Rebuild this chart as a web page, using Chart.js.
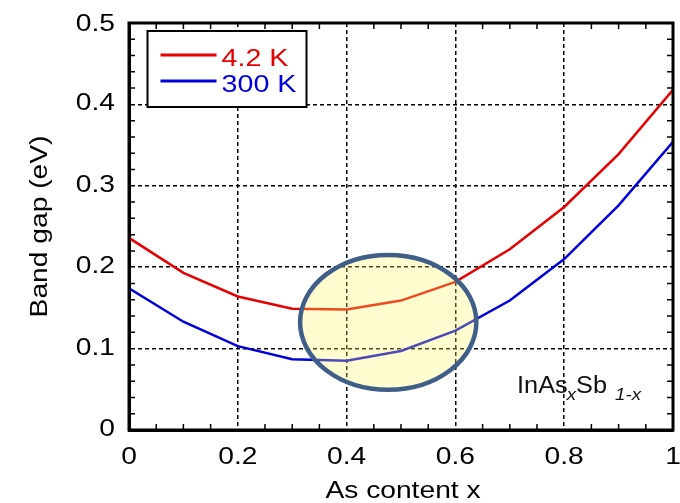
<!DOCTYPE html>
<html>
<head>
<meta charset="utf-8">
<script src="https://cdn.jsdelivr.net/npm/chart.js@4/dist/chart.umd.min.js"></script>
<style>
  html, body { margin: 0; padding: 0; background: #fff; }
  #wrap { width: 680px; height: 503px; }
</style>
</head>
<body>
<div id="wrap"><canvas id="c" width="680" height="503"></canvas></div>
<script>
var asContent = [0, 0.1, 0.2, 0.3, 0.4, 0.5, 0.6, 0.7, 0.8, 0.9, 1]
  , gap4K     = [0.236, 0.193, 0.164, 0.149, 0.148, 0.159, 0.182, 0.222, 0.274, 0.339, 0.418]
  , gap300K   = [0.174, 0.133, 0.103, 0.087, 0.085, 0.097, 0.122, 0.159, 0.210, 0.276, 0.354]
  , labels    = ["4.2 K", "300 K"]
  , colors    = ["#e60000", "#0000dc"]
  , xTicks    = [0, 0.2, 0.4, 0.6, 0.8, 1]
  , yTicks    = [0, 0.1, 0.2, 0.3, 0.4, 0.5]
  , xTitle    = "As content x"
  , yTitle    = "Band gap (eV)"
  // highlighted region, in data units
  , spot      = {x: 0.4765, y: 0.1323, rx: 0.162, ry: 0.0828}
  // where the compound name starts, in data units
  , nameAt    = {x: 0.7134, y: 0.0458}
  , FONT      = "'Liberation Sans', Arial, sans-serif"
  , STRETCH   = 1.2   // the original lettering is wider than Arial

function toPoints(ys) {
  return ys.map(function(y, i) { return {x: asContent[i], y: y} })
}

function edgeColor(ctx, max) {
  var v = ctx.tick && ctx.tick.value
  return (v === 0 || Math.abs(v - max) < 1e-9) ? "rgba(0,0,0,0)" : "#000"
}

function fmt(v) { return String(+v.toFixed(2)) }

// draws text stretched along its own direction, returns advance
function wideText(c, text, x, y, opts) {
  c.save()
  c.translate(x, y)
  if (opts.rotate) c.rotate(opts.rotate)
  c.scale(opts.sx || STRETCH, 1)
  c.font = opts.font
  c.fillStyle = opts.color || "#000"
  c.textAlign = opts.align || "left"
  c.textBaseline = "alphabetic"
  c.fillText(text, 0, 0)
  var w = c.measureText(text).width * (opts.sx || STRETCH)
  c.restore()
  return w
}

var extras = {
  id: "extras",
  afterDatasetsDraw: function(chart) {
    var c = chart.ctx, xs = chart.scales.x, ys = chart.scales.y
      , cx = xs.getPixelForValue(spot.x), cy = ys.getPixelForValue(spot.y)
      , rx = xs.getPixelForValue(spot.x + spot.rx) - cx
      , ry = cy - ys.getPixelForValue(spot.y + spot.ry)
    c.save()
    c.beginPath()
    c.ellipse(cx, cy, rx, ry, 0, 0, Math.PI * 2)
    c.fillStyle = "rgba(255,246,95,0.3)"
    c.fill()
    c.lineWidth = 4.5
    c.strokeStyle = "#3f5e88"
    c.stroke()
    c.restore()
  },
  afterDraw: function(chart) {
    var c = chart.ctx, a = chart.chartArea, xs = chart.scales.x, ys = chart.scales.y
      , i, p
      , tickFont = "23.5px " + FONT
    c.save()
    // minor ticks on all four sides
    c.strokeStyle = "#000"
    c.lineWidth = 1.5
    c.beginPath()
    for (i = 1; i < 20; i++) {
      if (i % 4 === 0) continue
      p = xs.getPixelForValue(i * 0.05)
      c.moveTo(p, a.bottom); c.lineTo(p, a.bottom - 6)
      c.moveTo(p, a.top);    c.lineTo(p, a.top + 6)
    }
    for (i = 1; i < 25; i++) {
      if (i % 5 === 0) continue
      p = ys.getPixelForValue(i * 0.02)
      c.moveTo(a.left, p);  c.lineTo(a.left + 6, p)
      c.moveTo(a.right, p); c.lineTo(a.right - 6, p)
    }
    c.stroke()
    // frame
    c.lineWidth = 3
    c.strokeRect(a.left, a.top, a.right - a.left, a.bottom - a.top)
    c.restore()

    // tick labels and axis titles
    xTicks.forEach(function(v) {
      wideText(c, fmt(v), xs.getPixelForValue(v), a.bottom + 34, {font: tickFont, align: "center"})
    })
    yTicks.forEach(function(v) {
      var y = Math.max(ys.getPixelForValue(v) + 6, 31)
      wideText(c, fmt(v), a.left - 14, y, {font: tickFont, align: "right"})
    })
    wideText(c, xTitle, (a.left + a.right) / 2 + 2, a.bottom + 68, {font: tickFont, align: "center"})
    wideText(c, yTitle, 47, (a.top + a.bottom) / 2, {font: tickFont, align: "center", rotate: -Math.PI / 2})

    // legend box
    c.save()
    var lx = a.left + 18.5, ly = a.top + 8
    c.fillStyle = "#fff"
    c.fillRect(lx, ly, 159, 76)
    c.lineWidth = 2
    c.strokeStyle = "#000"
    c.strokeRect(lx, ly, 159, 76)
    labels.forEach(function(lab, k) {
      var yy = ly + 24 + k * 26
      c.strokeStyle = colors[k]
      c.lineWidth = 3
      c.beginPath(); c.moveTo(lx + 13, yy); c.lineTo(lx + 69, yy); c.stroke()
      wideText(c, lab, lx + 74, yy + 10.5, {font: "24.5px " + FONT, color: colors[k], sx: 1.17})
    })
    c.restore()

    // compound label InAs_xSb_1-x
    var tx = xs.getPixelForValue(nameAt.x), ty = ys.getPixelForValue(nameAt.y)
    var parts = [
      {t: "InAs", f: "23px " + FONT, dy: 0, gap: 0},
      {t: "x", f: "italic 17px " + FONT, dy: 7, gap: -1},
      {t: "Sb", f: "23px " + FONT, dy: 0, gap: 0},
      {t: "1-x", f: "italic 17px " + FONT, dy: 7, gap: 8}
    ]
    parts.forEach(function(pt) {
      tx += pt.gap
      tx += wideText(c, pt.t, tx, ty + pt.dy, {font: pt.f, color: "#111", sx: 1.1})
    })
  }
}

new Chart(document.getElementById("c"), {
  type: "line",
  data: {
    datasets: [
      { label: labels[0], data: toPoints(gap4K), borderColor: colors[0], borderWidth: 2.5
      , pointRadius: 0, fill: false, tension: 0 },
      { label: labels[1], data: toPoints(gap300K), borderColor: colors[1], borderWidth: 2.5
      , pointRadius: 0, fill: false, tension: 0 }
    ]
  },
  options: {
    responsive: false,
    animation: false,
    layout: { padding: { top: 23, right: 7, left: 0, bottom: 0 } },
    plugins: { legend: { display: false }, tooltip: { enabled: false } },
    scales: {
      x: {
        type: "linear", min: 0, max: 1,
        afterBuildTicks: function(s) { s.ticks = xTicks.map(function(v) { return {value: v} }) },
        afterFit: function(s) { s.height = 73 },
        ticks: { display: false },
        grid: { color: function(ctx) { return edgeColor(ctx, 1) }, lineWidth: 1.5, drawTicks: false },
        border: { display: true, color: "#000", width: 3, dash: [4, 3] }
      },
      y: {
        min: 0, max: 0.5,
        afterBuildTicks: function(s) { s.ticks = yTicks.map(function(v) { return {value: v} }) },
        afterFit: function(s) { s.width = 129 },
        ticks: { display: false },
        grid: { color: function(ctx) { return edgeColor(ctx, 0.5) }, lineWidth: 1.5, drawTicks: false },
        border: { display: true, color: "#000", width: 3, dash: [4, 3] }
      }
    }
  },
  plugins: [extras]
})
</script>
</body>
</html>
